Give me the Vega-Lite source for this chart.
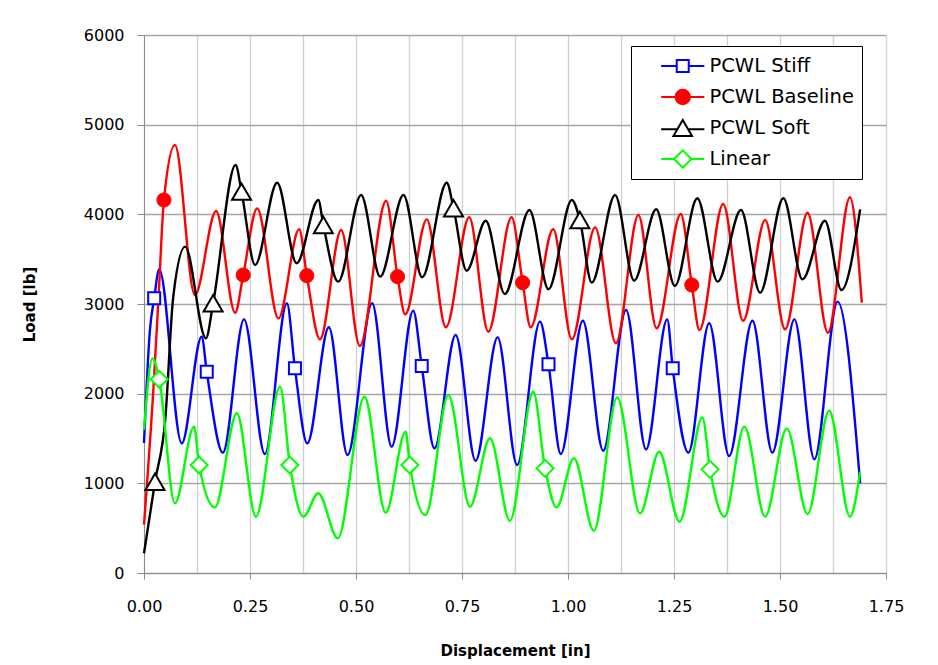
{
  "$schema": "https://vega.github.io/schema/vega-lite/v6.json",
  "width": 742,
  "height": 538,
  "autosize": {"type": "none"},
  "padding": {"left": 144, "top": 35, "right": 52, "bottom": 92},
  "background": "white",
  "config": {
    "view": {"stroke": null},
    "font": "DejaVu Sans",
    "axis": {"labelFont": "DejaVu Sans", "labelFontSize": 16, "labelColor": "#000000", "titleFont": "DejaVu Sans", "titleFontSize": 15, "titleFontWeight": "bold", "titleColor": "#000000", "domainColor": "#8c8c8c", "tickColor": "#8c8c8c"}
  },
  "data": {"values": [
    {"s":"PCWL Stiff","x":0,"y":1450,"m":0},{"s":"PCWL Stiff","x":0.014,"y":2710,"m":0},{"s":"PCWL Stiff","x":0.024,"y":3063,"m":1},{"s":"PCWL Stiff","x":0.036,"y":3387,"m":0},{"s":"PCWL Stiff","x":0.089,"y":1446,"m":0},{"s":"PCWL Stiff","x":0.136,"y":2635,"m":0},{"s":"PCWL Stiff","x":0.148,"y":2245,"m":1},{"s":"PCWL Stiff","x":0.186,"y":1342,"m":0},{"s":"PCWL Stiff","x":0.236,"y":2829,"m":0},{"s":"PCWL Stiff","x":0.285,"y":1327,"m":0},{"s":"PCWL Stiff","x":0.337,"y":3008,"m":0},{"s":"PCWL Stiff","x":0.356,"y":2283,"m":1},{"s":"PCWL Stiff","x":0.385,"y":1446,"m":0},{"s":"PCWL Stiff","x":0.436,"y":2740,"m":0},{"s":"PCWL Stiff","x":0.48,"y":1316,"m":0},{"s":"PCWL Stiff","x":0.538,"y":3008,"m":0},{"s":"PCWL Stiff","x":0.584,"y":1409,"m":0},{"s":"PCWL Stiff","x":0.635,"y":2925,"m":0},{"s":"PCWL Stiff","x":0.655,"y":2308,"m":1},{"s":"PCWL Stiff","x":0.685,"y":1390,"m":0},{"s":"PCWL Stiff","x":0.735,"y":2654,"m":0},{"s":"PCWL Stiff","x":0.782,"y":1252,"m":0},{"s":"PCWL Stiff","x":0.834,"y":2628,"m":0},{"s":"PCWL Stiff","x":0.88,"y":1204,"m":0},{"s":"PCWL Stiff","x":0.934,"y":2803,"m":0},{"s":"PCWL Stiff","x":0.954,"y":2327,"m":1},{"s":"PCWL Stiff","x":0.983,"y":1327,"m":0},{"s":"PCWL Stiff","x":1.035,"y":2814,"m":0},{"s":"PCWL Stiff","x":1.083,"y":1364,"m":0},{"s":"PCWL Stiff","x":1.137,"y":2933,"m":0},{"s":"PCWL Stiff","x":1.184,"y":1379,"m":0},{"s":"PCWL Stiff","x":1.234,"y":2829,"m":0},{"s":"PCWL Stiff","x":1.247,"y":2283,"m":1},{"s":"PCWL Stiff","x":1.284,"y":1342,"m":0},{"s":"PCWL Stiff","x":1.333,"y":2785,"m":0},{"s":"PCWL Stiff","x":1.38,"y":1305,"m":0},{"s":"PCWL Stiff","x":1.435,"y":2814,"m":0},{"s":"PCWL Stiff","x":1.482,"y":1342,"m":0},{"s":"PCWL Stiff","x":1.534,"y":2829,"m":0},{"s":"PCWL Stiff","x":1.581,"y":1268,"m":0},{"s":"PCWL Stiff","x":1.636,"y":3026,"m":0},{"s":"PCWL Stiff","x":1.689,"y":1000,"m":0},
    {"s":"PCWL Baseline","x":0,"y":540,"m":0},{"s":"PCWL Baseline","x":0.022,"y":2040,"m":0},{"s":"PCWL Baseline","x":0.034,"y":3044,"m":0},{"s":"PCWL Baseline","x":0.047,"y":4160,"m":1},{"s":"PCWL Baseline","x":0.073,"y":4773,"m":0},{"s":"PCWL Baseline","x":0.12,"y":3100,"m":0},{"s":"PCWL Baseline","x":0.17,"y":4037,"m":0},{"s":"PCWL Baseline","x":0.215,"y":2903,"m":0},{"s":"PCWL Baseline","x":0.234,"y":3323,"m":1},{"s":"PCWL Baseline","x":0.267,"y":4067,"m":0},{"s":"PCWL Baseline","x":0.317,"y":2840,"m":0},{"s":"PCWL Baseline","x":0.366,"y":3833,"m":0},{"s":"PCWL Baseline","x":0.384,"y":3316,"m":1},{"s":"PCWL Baseline","x":0.415,"y":2606,"m":0},{"s":"PCWL Baseline","x":0.465,"y":3825,"m":0},{"s":"PCWL Baseline","x":0.509,"y":2531,"m":0},{"s":"PCWL Baseline","x":0.571,"y":4152,"m":0},{"s":"PCWL Baseline","x":0.598,"y":3305,"m":1},{"s":"PCWL Baseline","x":0.616,"y":2885,"m":0},{"s":"PCWL Baseline","x":0.667,"y":3944,"m":0},{"s":"PCWL Baseline","x":0.712,"y":2740,"m":0},{"s":"PCWL Baseline","x":0.767,"y":3967,"m":0},{"s":"PCWL Baseline","x":0.812,"y":2691,"m":0},{"s":"PCWL Baseline","x":0.867,"y":3967,"m":0},{"s":"PCWL Baseline","x":0.893,"y":3238,"m":1},{"s":"PCWL Baseline","x":0.912,"y":2740,"m":0},{"s":"PCWL Baseline","x":0.965,"y":3833,"m":0},{"s":"PCWL Baseline","x":1.009,"y":2606,"m":0},{"s":"PCWL Baseline","x":1.064,"y":3855,"m":0},{"s":"PCWL Baseline","x":1.113,"y":2562,"m":0},{"s":"PCWL Baseline","x":1.166,"y":3992,"m":0},{"s":"PCWL Baseline","x":1.209,"y":2729,"m":0},{"s":"PCWL Baseline","x":1.266,"y":4004,"m":0},{"s":"PCWL Baseline","x":1.292,"y":3212,"m":1},{"s":"PCWL Baseline","x":1.31,"y":2710,"m":0},{"s":"PCWL Baseline","x":1.366,"y":4115,"m":0},{"s":"PCWL Baseline","x":1.413,"y":2814,"m":0},{"s":"PCWL Baseline","x":1.465,"y":3937,"m":0},{"s":"PCWL Baseline","x":1.512,"y":2718,"m":0},{"s":"PCWL Baseline","x":1.565,"y":4018,"m":0},{"s":"PCWL Baseline","x":1.613,"y":2680,"m":0},{"s":"PCWL Baseline","x":1.665,"y":4190,"m":0},{"s":"PCWL Baseline","x":1.693,"y":3015,"m":0},
    {"s":"PCWL Soft","x":0,"y":220,"m":0},{"s":"PCWL Soft","x":0.026,"y":1018,"m":1},{"s":"PCWL Soft","x":0.05,"y":1706,"m":0},{"s":"PCWL Soft","x":0.069,"y":3081,"m":0},{"s":"PCWL Soft","x":0.097,"y":3640,"m":0},{"s":"PCWL Soft","x":0.146,"y":2617,"m":0},{"s":"PCWL Soft","x":0.163,"y":3008,"m":1},{"s":"PCWL Soft","x":0.216,"y":4550,"m":0},{"s":"PCWL Soft","x":0.23,"y":4253,"m":1},{"s":"PCWL Soft","x":0.262,"y":3435,"m":0},{"s":"PCWL Soft","x":0.314,"y":4353,"m":0},{"s":"PCWL Soft","x":0.36,"y":3454,"m":0},{"s":"PCWL Soft","x":0.411,"y":4160,"m":0},{"s":"PCWL Soft","x":0.423,"y":3881,"m":1},{"s":"PCWL Soft","x":0.458,"y":3249,"m":0},{"s":"PCWL Soft","x":0.512,"y":4216,"m":0},{"s":"PCWL Soft","x":0.557,"y":3305,"m":0},{"s":"PCWL Soft","x":0.612,"y":4216,"m":0},{"s":"PCWL Soft","x":0.656,"y":3298,"m":0},{"s":"PCWL Soft","x":0.714,"y":4353,"m":0},{"s":"PCWL Soft","x":0.73,"y":4067,"m":1},{"s":"PCWL Soft","x":0.761,"y":3371,"m":0},{"s":"PCWL Soft","x":0.806,"y":3929,"m":0},{"s":"PCWL Soft","x":0.851,"y":3111,"m":0},{"s":"PCWL Soft","x":0.909,"y":4048,"m":0},{"s":"PCWL Soft","x":0.954,"y":3164,"m":0},{"s":"PCWL Soft","x":1.009,"y":4160,"m":0},{"s":"PCWL Soft","x":1.028,"y":3937,"m":1},{"s":"PCWL Soft","x":1.056,"y":3238,"m":0},{"s":"PCWL Soft","x":1.111,"y":4216,"m":0},{"s":"PCWL Soft","x":1.156,"y":3260,"m":0},{"s":"PCWL Soft","x":1.208,"y":4056,"m":0},{"s":"PCWL Soft","x":1.252,"y":3201,"m":0},{"s":"PCWL Soft","x":1.305,"y":4179,"m":0},{"s":"PCWL Soft","x":1.353,"y":3249,"m":0},{"s":"PCWL Soft","x":1.408,"y":4048,"m":0},{"s":"PCWL Soft","x":1.453,"y":3126,"m":0},{"s":"PCWL Soft","x":1.508,"y":4179,"m":0},{"s":"PCWL Soft","x":1.553,"y":3275,"m":0},{"s":"PCWL Soft","x":1.606,"y":3929,"m":0},{"s":"PCWL Soft","x":1.645,"y":3156,"m":0},{"s":"PCWL Soft","x":1.689,"y":4056,"m":0},
    {"s":"Linear","x":0,"y":1600,"m":0},{"s":"Linear","x":0.02,"y":2394,"m":0},{"s":"Linear","x":0.036,"y":2160,"m":1},{"s":"Linear","x":0.073,"y":777,"m":0},{"s":"Linear","x":0.118,"y":1632,"m":0},{"s":"Linear","x":0.13,"y":1204,"m":1},{"s":"Linear","x":0.167,"y":732,"m":0},{"s":"Linear","x":0.219,"y":1781,"m":0},{"s":"Linear","x":0.264,"y":628,"m":0},{"s":"Linear","x":0.321,"y":2078,"m":0},{"s":"Linear","x":0.344,"y":1204,"m":1},{"s":"Linear","x":0.376,"y":628,"m":0},{"s":"Linear","x":0.411,"y":889,"m":0},{"s":"Linear","x":0.457,"y":387,"m":0},{"s":"Linear","x":0.52,"y":1966,"m":0},{"s":"Linear","x":0.57,"y":673,"m":0},{"s":"Linear","x":0.617,"y":1576,"m":0},{"s":"Linear","x":0.627,"y":1204,"m":1},{"s":"Linear","x":0.664,"y":647,"m":0},{"s":"Linear","x":0.718,"y":1985,"m":0},{"s":"Linear","x":0.769,"y":739,"m":0},{"s":"Linear","x":0.816,"y":1502,"m":0},{"s":"Linear","x":0.863,"y":583,"m":0},{"s":"Linear","x":0.918,"y":2022,"m":0},{"s":"Linear","x":0.946,"y":1167,"m":1},{"s":"Linear","x":0.973,"y":732,"m":0},{"s":"Linear","x":1.014,"y":1279,"m":0},{"s":"Linear","x":1.061,"y":472,"m":0},{"s":"Linear","x":1.116,"y":1959,"m":0},{"s":"Linear","x":1.17,"y":665,"m":0},{"s":"Linear","x":1.215,"y":1353,"m":0},{"s":"Linear","x":1.263,"y":572,"m":0},{"s":"Linear","x":1.317,"y":1736,"m":0},{"s":"Linear","x":1.335,"y":1156,"m":1},{"s":"Linear","x":1.369,"y":628,"m":0},{"s":"Linear","x":1.416,"y":1632,"m":0},{"s":"Linear","x":1.465,"y":628,"m":0},{"s":"Linear","x":1.516,"y":1613,"m":0},{"s":"Linear","x":1.565,"y":658,"m":0},{"s":"Linear","x":1.616,"y":1810,"m":0},{"s":"Linear","x":1.665,"y":628,"m":0},{"s":"Linear","x":1.689,"y":1130,"m":0}
  ]},
  "encoding": {
    "x": {
      "field": "x", "type": "quantitative", "title": "Displacement [in]",
      "scale": {"domain": [0, 1.75], "nice": false, "zero": false},
      "axis": {
        "values": [0, 0.125, 0.25, 0.375, 0.5, 0.625, 0.75, 0.875, 1, 1.125, 1.25, 1.375, 1.5, 1.625, 1.75],
        "labelExpr": "round(datum.value * 8) % 2 == 0 ? format(datum.value, '.2f') : ''",
        "labelOverlap": false, "labelFlush": false,
        "grid": true, "gridColor": "#d0d0d0", "gridWidth": 1.3,
        "tickSize": 6,
        "tickOpacity": {"condition": {"test": "round(datum.value * 8) % 2 == 1", "value": 0}, "value": 1},
        "labelPadding": 19, "titlePadding": 29
      }
    },
    "y": {
      "field": "y", "type": "quantitative", "title": "Load [lb]",
      "scale": {"domain": [0, 6000], "nice": false},
      "axis": {
        "values": [0, 1000, 2000, 3000, 4000, 5000, 6000], "format": "d",
        "grid": true, "gridColor": "#a6a6a6", "gridWidth": 1.3,
        "tickSize": 7, "labelPadding": 13, "titlePadding": 46
      }
    }
  },
  "layer": [
    {"transform": [{"filter": "datum.s == 'PCWL Stiff'"}], "mark": {"type": "line", "interpolate": "monotone", "strokeWidth": 2.4, "color": "#0000ff"}, "encoding": {}},
    {"transform": [{"filter": "datum.s == 'PCWL Baseline'"}], "mark": {"type": "line", "interpolate": "monotone", "strokeWidth": 2.4, "color": "#ff0000"}, "encoding": {}},
    {"transform": [{"filter": "datum.s == 'PCWL Soft'"}], "mark": {"type": "line", "interpolate": "monotone", "strokeWidth": 2.4, "color": "#000000"}, "encoding": {}},
    {"transform": [{"filter": "datum.s == 'Linear'"}], "mark": {"type": "line", "interpolate": "monotone", "strokeWidth": 2.4, "color": "#00ff00"}, "encoding": {}},
    {
      "transform": [{"filter": "datum.m == 1 && datum.s == 'PCWL Stiff'"}],
      "mark": {"type": "point", "shape": "square", "size": 144, "filled": true, "fill": "#ffffff", "stroke": "#0000ff", "strokeWidth": 2, "opacity": 1}
    },
    {
      "transform": [{"filter": "datum.m == 1 && datum.s == 'PCWL Baseline'"}],
      "mark": {"type": "point", "shape": "circle", "size": 200, "filled": true, "fill": "#ff0000", "stroke": "#ff0000", "strokeWidth": 1, "opacity": 1}
    },
    {
      "transform": [{"filter": "datum.m == 1 && datum.s == 'PCWL Soft'"}],
      "mark": {"type": "point", "shape": "triangle-up", "size": 361, "filled": true, "fill": "#ffffff", "stroke": "#000000", "strokeWidth": 2, "opacity": 1}
    },
    {
      "transform": [{"filter": "datum.m == 1 && datum.s == 'Linear'"}],
      "mark": {"type": "point", "shape": "diamond", "size": 289, "filled": true, "fill": "#ffffff", "stroke": "#00ff00", "strokeWidth": 2, "opacity": 1}
    },
    {
      "transform": [{"filter": "datum.m == 2"}],
      "mark": {"type": "point", "strokeWidth": 2, "size": 144},
      "encoding": {
        "stroke": {"field": "s", "type": "nominal",
          "scale": {"domain": ["PCWL Stiff", "PCWL Baseline", "PCWL Soft", "Linear"], "range": ["#0000ff", "#ff0000", "#000000", "#00ff00"]}},
        "fill": {"field": "s", "type": "nominal",
          "scale": {"domain": ["PCWL Stiff", "PCWL Baseline", "PCWL Soft", "Linear"], "range": ["#ffffff", "#ff0000", "#ffffff", "#ffffff"]}},
        "shape": {"field": "s", "type": "nominal",
          "scale": {"domain": ["PCWL Stiff", "PCWL Baseline", "PCWL Soft", "Linear"],
            "range": [
              "M-3.6,0H-1M1,0H3.6M-1,-1H1V1H-1Z",
              "M-3.6,0H3.6M1.2,0A1.2,1.2,0,1,1,-1.2,0A1.2,1.2,0,1,1,1.2,0Z",
              "M-3.6,0.2H-0.9M0.9,0.2H3.6M-1.55,1.35L0,-1.35L1.55,1.35Z",
              "M-3.6,0H-1.45M1.45,0H3.6M-1.45,0L0,-1.45L1.45,0L0,1.45Z"
            ]},
          "legend": {
            "orient": "none", "legendX": 487, "legendY": 11, "title": null,
            "strokeColor": "#000000", "fillColor": "#ffffff", "padding": 8,
            "labelFont": "DejaVu Sans", "labelFontSize": 19.5, "labelColor": "#000000", "labelLimit": 220,
            "clipHeight": 24,
            "symbolSize": 144, "symbolStrokeWidth": 2, "symbolOpacity": 1, "symbolOffset": 34, "labelOffset": 17, "rowPadding": 7
          }
        }
      }
    }
  ]
}
